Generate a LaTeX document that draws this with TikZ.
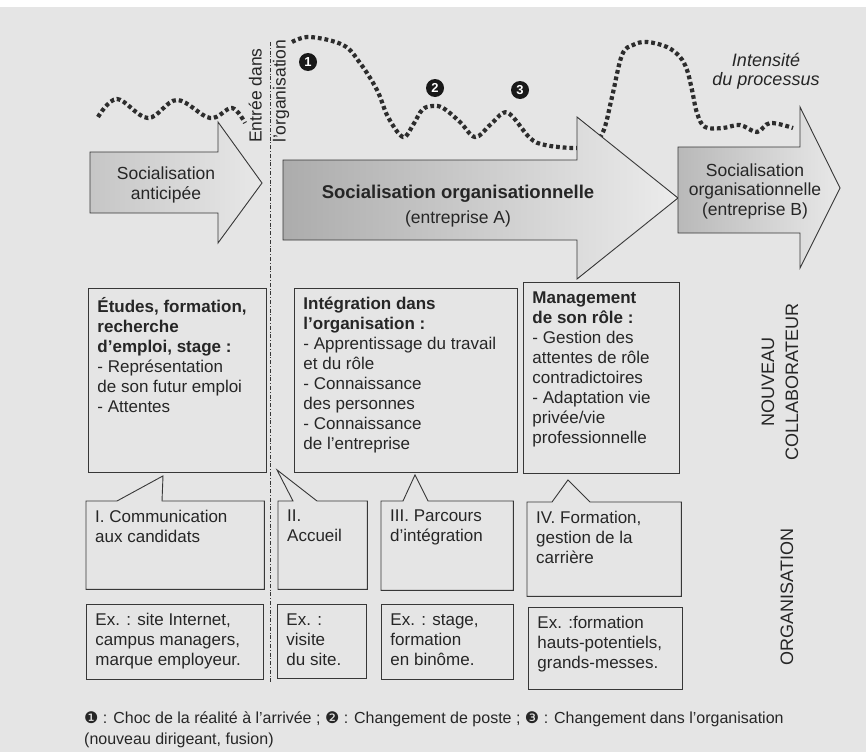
\documentclass[tikz,border=0pt]{standalone}
\usepackage{fontspec}
\setmainfont{Liberation Sans}
\newfontfamily\dejavu{DejaVu Sans}
\usetikzlibrary{calc}

\definecolor{pagecol}{RGB}{229,229,229}
\definecolor{inkcol}{RGB}{38,38,38}
\definecolor{linecol}{RGB}{55,55,55}
\definecolor{dotcol}{RGB}{45,45,45}

\tikzset{
  panel/.style={anchor=north west, inner xsep=9pt, inner ysep=9pt, text=inkcol, font=\fontsize{17}{20}\selectfont},
  framed panel/.style={panel, draw=linecol, line width=0.9pt},
  frame/.style={draw=linecol, line width=0.9pt},
  bigarrow/.style={draw=linecol, line width=0.9pt},
  arrowlabel/.style={align=center, inner sep=0pt, text=inkcol, font=\fontsize{17.5}{19.5}\selectfont},
  numdot/.style={circle, fill=black!90, text=white, inner sep=0pt, minimum size=18pt, font=\fontsize{13}{13}\selectfont\bfseries},
  intensity/.style={draw=dotcol, line width=4.2pt, dash pattern=on 3.8pt off 2.9pt},
  entryline/.style={draw=linecol, line width=0.8pt, dash pattern=on 4pt off 1.8pt on 1pt off 1.8pt},
  sidelabel/.style={rotate=90, align=center, inner sep=0pt, text=inkcol, font=\fontsize{18}{24}\selectfont}
}

\begin{document}
\begin{tikzpicture}[x=1pt, y=-1pt]
    \useasboundingbox (0,0) rectangle (866,752);
    \fill[pagecol] (0,0) rectangle (866,752);
    \fill[white] (0,0) rectangle (866,7);

    % intensite du processus
    \draw[intensity] plot[smooth, tension=0.6] coordinates {(98,117) (117,99) (148,118) (177,100) (210,118) (232,108) (245,123)};
    \draw[intensity] plot[smooth, tension=0.6] coordinates {(292,42) (310,37) (343,45) (360,63) (377,90) (388,117) (403,137) (413,125) (422,110) (432,106) (443,108) (460,122) (475,137) (490,125) (503,113) (512,116) (530,138) (545,145) (573,148) (590,146) (603,132) (612,97) (622,55) (633,45) (647,42) (667,47) (680,57) (687,70) (692,90) (697,113) (705,127) (723,128) (740,125) (757,132) (770,123) (793,128)};

    \node[numdot] (n1) at (308,62) {1};
    \node[numdot] (n2) at (435,88) {2};
    \node[numdot] (n3) at (520,90) {3};
    \node[align=center, inner sep=0pt, text=inkcol, font=\fontsize{18}{18.5}\selectfont\itshape] (intens) at (766,71) {Intensité\\du processus};

    % les trois fleches
    \draw[bigarrow, left color=gray!45, right color=gray!18] (90,152) -- (218,152) -- (218,122) -- (262,183) -- (218,243) -- (218,213) -- (90,213) -- cycle;
    \node[arrowlabel, font=\fontsize{17.5}{20}\selectfont] (anticip) at (166,185) {Socialisation\\anticipée};

    \draw[bigarrow, left color=gray!65, right color=gray!15] (283,160) -- (577,160) -- (577,117) -- (678,198) -- (577,279) -- (577,240) -- (283,240) -- cycle;
    \node[arrowlabel, font=\fontsize{17.5}{25}\selectfont] (orgA) at (458,206) {{\fontsize{18.5}{25}\selectfont\bfseries Socialisation organisationnelle}\\(entreprise A)};

    \draw[bigarrow, left color=gray!55, right color=gray!18] (678,147) -- (800,147) -- (800,107) -- (840,188) -- (800,268) -- (800,233) -- (678,233) -- cycle;
    \node[arrowlabel] (orgB) at (755,191) {Socialisation\\organisationnelle\\(entreprise B)};

    % entree dans l'organisation
    \coordinate (entrytop) at (270,42);
    \coordinate (entrybot) at (270,683);
    \draw[entryline] (entrytop) -- (entrybot);
    \node[rotate=90, anchor=west, align=left, inner sep=0pt, text=inkcol, font=\fontsize{17.5}{24}\selectfont] (entry) at (269,143) {Entrée dans\\l’organisation};

    % nouveau collaborateur
    \node[framed panel] (etudes) at (88,288) {\parbox[c][166pt][t]{160pt}{\raggedright{\bfseries Études, formation,\\recherche\\d’emploi, stage :}\\- Représentation\\de son futur emploi\\- Attentes}};
    \node[framed panel] (integ) at (294,288) {\parbox[c][166pt][t]{205pt}{\raggedright{\bfseries Intégration dans\\l’organisation :}\\- Apprentissage du travail\\et du rôle\\- Connaissance\\des personnes\\- Connaissance\\de l’entreprise}};
    \node[framed panel] (mgmt) at (523,282) {\parbox[c][173pt][t]{138pt}{\raggedright{\bfseries Management\\de son rôle :}\\- Gestion des\\attentes de rôle\\contradictoires\\- Adaptation vie\\privée/vie\\professionnelle}};
    \node[sidelabel] (newcol) at (780,382) {NOUVEAU\\COLLABORATEUR};

    % organisation
    \node[panel] (comm) at (86,501) {\parbox[c][70pt][t]{160pt}{\raggedright I. Communication\\aux candidats}};
    \node[panel] (accueil) at (278,501) {\parbox[c][70pt][t]{71pt}{\raggedright II.\\Accueil}};
    \node[panel] (parcours) at (381,501) {\parbox[c][71pt][t]{114pt}{\raggedright III. Parcours\\d’intégration}};
    \node[panel] (formation) at (527,502) {\parbox[c][76pt][t]{136pt}{\raggedright IV. Formation,\\gestion de la\\carrière}};

    \draw[frame] (comm.north west) -- ++(31,0) -- ($(etudes.south west)+(75,3)$) -- ($(comm.north west)+(76,0)$) -- (comm.north east) -- (comm.south east) -- (comm.south west) -- cycle;
    \draw[frame] (accueil.north west) -- ++(15,0) -- ($(integ.south west)+(-17,-3)$) -- ($(accueil.north west)+(39,0)$) -- (accueil.north east) -- (accueil.south east) -- (accueil.south west) -- cycle;
    \draw[frame] (parcours.north west) -- ++(22,0) -- ($(integ.south west)+(121,2)$) -- ($(parcours.north west)+(47,0)$) -- (parcours.north east) -- (parcours.south east) -- (parcours.south west) -- cycle;
    \draw[frame] (formation.north west) -- ++(25,0) -- ($(mgmt.south west)+(45,6)$) -- ($(formation.north west)+(63,0)$) -- (formation.north east) -- (formation.south east) -- (formation.south west) -- cycle;

    \node[framed panel] (ex1) at (86,604) {\parbox[c][57pt][t]{159pt}{\raggedright Ex. : site Internet,\\campus managers,\\marque employeur.}};
    \node[framed panel] (ex2) at (277,604) {\parbox[c][56pt][t]{71pt}{\raggedright Ex. :\\visite\\du site.}};
    \node[framed panel] (ex3) at (381,604) {\parbox[c][57pt][t]{114pt}{\raggedright Ex. : stage,\\formation\\en binôme.}};
    \node[framed panel] (ex4) at (528,607) {\parbox[c][64pt][t]{136pt}{\raggedright Ex. :formation\\hauts-potentiels,\\grands-messes.}};
    \node[sidelabel] (orglab) at (787,597) {ORGANISATION};

    % legende
    \node[anchor=north west, inner sep=0pt, align=left, text=inkcol, font=\fontsize{16}{21}\selectfont] (legend) at (84,711) {{\dejavu ❶} : Choc de la réalité à l’arrivée ; {\dejavu ❷} : Changement de poste ; {\dejavu ❸} : Changement dans l’organisation\\(nouveau dirigeant, fusion)};
\end{tikzpicture}
\end{document}
